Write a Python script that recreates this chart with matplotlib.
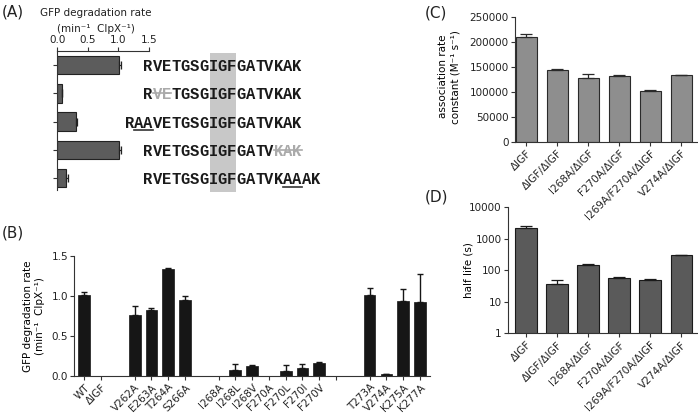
import numpy as np
import matplotlib
matplotlib.use("Agg")
import matplotlib.pyplot as plt
from matplotlib import transforms
from matplotlib.patches import Rectangle
from matplotlib.ticker import NullLocator

# (A) degradation of tag variants
a_rate = [1.01, 0.07, 0.30, 1.01, 0.15]
a_err = [0.04, 0.01, 0.02, 0.04, 0.02]
a_seqs = ["RVETGSGIGFGATVKAK", "RVETGSGIGFGATVKAK", "RAAVETGSGIGFGATVKAK",
          "RVETGSGIGFGATVKAK", "RVETGSGIGFGATVKAAAK"]
a_shift = [0, 0, -2, 0, 0]             # column offset so IGF lines up
a_struck = [None, (1, 3), None, (14, 17), None]
a_under = [None, None, (1, 3), None, (15, 17)]

# (B) alanine / substitution scan
b_labels = ["WT", "ΔIGF", "", "V262A", "E263A", "T264A", "S266A", "",
            "I268A", "I268L", "I268V", "F270A", "F270L", "F270I", "F270V", "", "",
            "T273A", "V274A", "K275A", "K277A"]
b_rate = [1.01, 0.0, np.nan, 0.76, 0.825, 1.34, 0.95, np.nan,
          0.0, 0.075, 0.125, 0.0, 0.067, 0.10, 0.158, np.nan, np.nan,
          1.01, 0.02, 0.94, 0.92]
b_err = [0.04, 0.0, np.nan, 0.12, 0.025, 0.005, 0.045, np.nan,
         0.0, 0.075, 0.015, 0.0, 0.07, 0.045, 0.02, np.nan, np.nan,
         0.09, 0.01, 0.15, 0.36]

# (C) and (D)
cd_labels = ["ΔIGF", "ΔIGF/ΔIGF", "I268A/ΔIGF", "F270A/ΔIGF", "I269A/F270A/ΔIGF", "V274A/ΔIGF"]
c_kon = [210000, 143500, 127500, 131500, 101500, 133000]
c_err = [4500, 2500, 8500, 2000, 1300, 600]
d_half = [2170, 38, 151, 57, 51, 296]
d_err = [400, 11, 3, 4, 3, 20]

W, H = 698, 413
FS = 7.5
TXT = "#222222"
plt.rcParams["font.family"] = ["DejaVu Sans"]
plt.rcParams["font.size"] = FS
plt.rcParams["text.color"] = TXT
plt.rcParams["xtick.color"] = "#333333"
plt.rcParams["ytick.color"] = "#333333"
plt.rcParams["xtick.labelcolor"] = TXT
plt.rcParams["ytick.labelcolor"] = TXT
plt.rcParams["axes.edgecolor"] = "#333333"
plt.rcParams["axes.linewidth"] = 0.8


def box(l, t, r, b):
    return [l / W, 1 - b / H, (r - l) / W, (b - t) / H]


def prism(ax):
    ax.spines["top"].set_visible(False)
    ax.spines["right"].set_visible(False)
    ax.tick_params(length=3, width=0.8, pad=1.5, labelsize=FS)
    ax.set_facecolor("none")


fig = plt.figure(figsize=(W / 100, H / 100), dpi=100)

# ---------------- (A)
axA = fig.add_axes(box(57.3, 51, 149, 190))
ya = np.arange(len(a_rate))
axA.barh(ya, a_rate, height=0.65, color="#5c5c5c", edgecolor="#222222", linewidth=0.8)
axA.errorbar(a_rate, ya, xerr=[np.zeros(len(a_err)), a_err], fmt="none",
             ecolor="#222222", elinewidth=0.9, capsize=3.2, capthick=0.9)
axA.set_xlim(0, 1.5)
axA.set_ylim(4.42, -0.5)
axA.xaxis.tick_top()
axA.set_xticks([0, 0.5, 1.0, 1.5])
axA.set_xticklabels(["0.0", "0.5", "1.0", "1.5"])
axA.set_yticks(ya)
axA.set_yticklabels([])
axA.spines["bottom"].set_visible(False)
axA.spines["right"].set_visible(False)
axA.tick_params(length=3, width=0.8, pad=1.2, labelsize=FS)
axA.set_facecolor("none")
fig.text(96 / W, 1 - 13.5 / H, "GFP degradation rate", ha="center", va="center")
fig.text(96 / W, 1 - 28.5 / H, "(min⁻¹  ClpX⁻¹)", ha="center", va="center")

blend = transforms.blended_transform_factory(fig.transFigure, axA.transData)
cw = 9.31
x0 = 143.3
axA.add_patch(Rectangle((210 / W, -0.42), 26 / W, 4.92, transform=blend,
                        facecolor="#c8c8c8", edgecolor="none", zorder=0.5, clip_on=False))
for i, seq in enumerate(a_seqs):
    for j, ch in enumerate(seq):
        col = a_shift[i] + j
        grey = a_struck[i] is not None and a_struck[i][0] <= j < a_struck[i][1]
        axA.text((x0 + (col + 0.5) * cw) / W, i, ch, transform=blend, ha="center",
                 va="center_baseline", family="Liberation Mono", weight="bold",
                 fontsize=11.2, color="#aaaaaa" if grey else "#1a1a1a",
                 clip_on=False, zorder=3)
    if a_struck[i] is not None:
        s, e = a_struck[i]
        xs = [(x0 + (a_shift[i] + s) * cw) / W, (x0 + (a_shift[i] + e) * cw) / W]
        axA.plot(xs, [i, i], transform=blend, color="#aaaaaa", lw=1.2, clip_on=False, zorder=4)
    if a_under[i] is not None:
        s, e = a_under[i]
        xs = [(x0 + (a_shift[i] + s) * cw) / W, (x0 + (a_shift[i] + e) * cw) / W]
        axA.plot(xs, [i + 0.3, i + 0.3], transform=blend, color="#333333", lw=1.2,
                 clip_on=False, zorder=4)

# ---------------- (B)
axB = fig.add_axes(box(74.3, 256, 430, 376))
prism(axB)
xb = np.arange(len(b_labels))
rate = np.array(b_rate)
err = np.array(b_err)
axB.bar(xb, np.nan_to_num(rate), width=0.7, color="#161616", edgecolor="#161616", linewidth=0.5)
ok = np.nan_to_num(err) > 0
axB.errorbar(xb[ok], rate[ok], yerr=[np.zeros(ok.sum()), err[ok]], fmt="none",
             ecolor="#161616", elinewidth=1, capsize=2.4, capthick=1)
axB.set_xlim(-0.6, 20.6)
axB.set_ylim(0, 1.5)
axB.set_yticks([0, 0.5, 1.0, 1.5])
axB.set_yticklabels(["0.0", "0.5", "1.0", "1.5"])
bt = [i for i, l in enumerate(b_labels) if l] + [15]
axB.set_xticks(bt)
axB.set_xticklabels([b_labels[i] for i in bt], rotation=45, ha="right", va="top",
                    rotation_mode="anchor")
axB.set_ylabel("GFP degradation rate\n(min⁻¹  ClpX⁻¹)", linespacing=1.3)
axB.yaxis.set_label_coords(-0.082, 0.5)

# ---------------- (C)
axC = fig.add_axes(box(515, 16.7, 697, 141.7))
prism(axC)
xc = np.arange(len(cd_labels))
axC.bar(xc, c_kon, width=0.7, color="#8e8e8e", edgecolor="#2a2a2a", linewidth=0.8)
axC.errorbar(xc, c_kon, yerr=[np.zeros(len(c_err)), c_err], fmt="none",
             ecolor="#2a2a2a", elinewidth=0.9, capsize=4, capthick=0.9)
axC.set_xlim(-0.37, 5.5)
axC.set_ylim(0, 250000)
axC.set_yticks(range(0, 250001, 50000))
axC.set_yticklabels([str(v) for v in range(0, 250001, 50000)])
axC.set_xticks(xc)
axC.set_xticklabels(cd_labels, rotation=45, ha="right", va="top", rotation_mode="anchor")
axC.set_ylabel("association rate\nconstant (M⁻¹ s⁻¹)", linespacing=1.3)
axC.yaxis.set_label_coords(-0.30, 0.52)

# ---------------- (D)
axD = fig.add_axes(box(508, 207.3, 697, 333.3))
prism(axD)
axD.set_yscale("log")
axD.bar(xc, d_half, width=0.7, color="#5a5a5a", edgecolor="#1a1a1a", linewidth=0.8)
axD.errorbar(xc, d_half, yerr=[np.zeros(len(d_err)), d_err], fmt="none",
             ecolor="#1a1a1a", elinewidth=0.9, capsize=4, capthick=0.9)
axD.set_xlim(-0.58, 5.5)
axD.set_ylim(1, 10000)
axD.set_yticks([1, 10, 100, 1000, 10000])
axD.set_yticklabels(["1", "10", "100", "1000", "10000"])
axD.yaxis.set_minor_locator(NullLocator())
axD.set_xticks(xc)
axD.set_xticklabels(cd_labels, rotation=45, ha="right", va="top", rotation_mode="anchor")
axD.set_ylabel("half life (s)")
axD.yaxis.set_label_coords(-0.185, 0.5)

# panel letters
for lbl, px, py in [("(A)", 2, 12), ("(B)", 2, 233), ("(C)", 425, 12.5), ("(D)", 425, 197)]:
    fig.text(px / W, 1 - py / H, lbl, fontsize=11, ha="left", va="center")

fig.savefig("out.png", dpi=100)
